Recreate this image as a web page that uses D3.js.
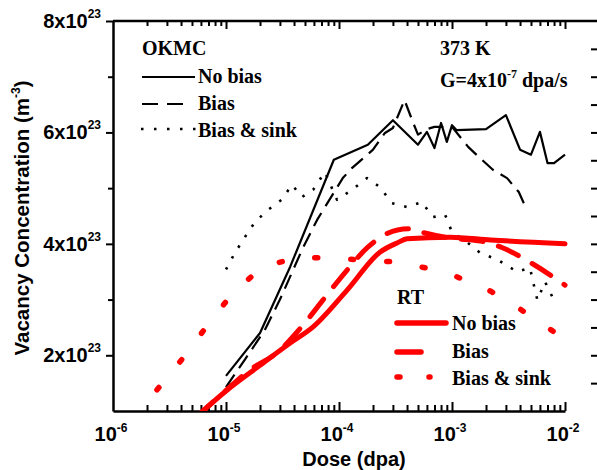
<!DOCTYPE html>
<html><head><meta charset="utf-8">
<script src="https://cdn.jsdelivr.net/npm/d3@7"></script>
<style>body{margin:0;background:#fff}</style>
</head><body>
<svg id="c" width="597" height="470"></svg>
<script>
// ---- data (concentration in units of 1e23 m^-3) ----
const xTickExps = [-6, -5, -4, -3, -2];
const yTickVals = [2, 4, 6, 8];
const yTickExp = "23";
const okmcNoBias = [[1e-5,1.63],[2e-5,2.40],[2.8e-5,3.05],[3.7e-5,3.59],[9e-5,5.51],[1.8e-4,5.78],[3e-4,6.22],[5e-4,5.78],[6e-4,6.01],[7e-4,5.72],[8e-4,6.17],[9e-4,5.83],[1e-3,6.13],[1.1e-3,6.04],[2e-3,6.06],[3e-3,6.31],[4e-3,5.69],[5e-3,5.60],[6e-3,6.01],[7e-3,5.45],[8e-3,5.45],[1e-2,5.60]];
const okmcBias = [[1e-5,1.43],[1.5e-5,1.95],[2.2e-5,2.45],[3e-5,3.0],[4.8e-5,3.93],[6.4e-5,4.43],[1.08e-4,5.18],[1.3e-4,5.36],[2e-4,5.69],[2.55e-4,5.99],[3e-4,6.08],[3.8e-4,6.58],[4.5e-4,6.19],[5e-4,5.96],[6e-4,6.06],[7e-4,6.1],[1e-3,6.1],[1.39e-3,5.74],[1.77e-3,5.54],[2.3e-3,5.33],[3.07e-3,5.18],[3.9e-3,4.93],[4.5e-3,4.65]];
const okmcSink = [[1e-5,3.54],[1.2e-5,3.84],[1.47e-5,4.12],[1.8e-5,4.39],[2.35e-5,4.61],[3.1e-5,4.79],[3.84e-5,5.06],[4.7e-5,4.84],[5.9e-5,4.97],[7.5e-5,5.29],[9.6e-5,4.79],[1.3e-4,4.97],[1.77e-4,5.18],[2.3e-4,5.02],[2.94e-4,4.73],[4e-4,4.66],[5.4e-4,4.75],[6.8e-4,4.48],[8.7e-4,4.52],[1e-3,4.21],[1.36e-3,4.03],[1.77e-3,3.84],[2.55e-3,3.71],[3.76e-3,3.50],[4.9e-3,3.57],[5.3e-3,3.26],[5.7e-3,2.99],[6.65e-3,3.32],[7.8e-3,3.03]];
const rtNoBias = [[5.5e-6,0.9],[1e-5,1.36],[2e-5,1.82],[3.7e-5,2.22],[5.9e-5,2.51],[1.18e-4,3.17],[2.3e-4,3.85],[3.3e-4,4.02],[4e-4,4.09],[9.6e-4,4.12],[2.2e-3,4.07],[1e-2,4.0]];
const rtBias = [[5.5e-6,0.9],[9.4e-6,1.32],[1.63e-5,1.74],[2.8e-5,2.04],[4.8e-5,2.54],[7.2e-5,2.99],[1.18e-4,3.53],[1.8e-4,3.94],[3.3e-4,4.25],[4.3e-4,4.27],[5.4e-4,4.21],[1e-3,4.1],[1.8e-3,4.05],[2.8e-3,3.93],[4.9e-3,3.67],[1e-2,3.26]];
const rtSink = [[2.45e-6,1.38],[4.16e-6,1.95],[6.8e-6,2.53],[1.15e-5,3.12],[2.12e-5,3.59],[4.2e-5,3.75],[7.8e-5,3.75],[2.9e-4,3.68],[5.8e-4,3.57],[1.1e-3,3.41],[2.2e-3,3.15],[4e-3,2.83],[8e-3,2.42]];

const SANS = "'Liberation Sans', Arial, sans-serif";
const SERIF = "'Liberation Serif', 'Times New Roman', serif";
const RED = "#ff0000";

const svg = d3.select("#c");
const L = 113, R = 565, T = 21, B = 411, RE = 597;
const x = d3.scaleLog().domain([1e-6, 1e-2]).range([L, R]);
const y = d3.scaleLinear().domain([1, 8]).range([B, T]);

svg.append("defs").append("clipPath").attr("id", "clip")
  .append("rect").attr("x", L).attr("y", T).attr("width", RE - L).attr("height", B - T);

const majorX = xTickExps.map(e => Math.pow(10, e));
const minorX = [];
for (let e = -6; e < -2; e++) for (let k = 2; k <= 9; k++) minorX.push(k * Math.pow(10, e));

function styleAxis(g) {
  g.selectAll("path,line").attr("stroke", "#000").attr("stroke-width", 2);
  g.selectAll("text").remove();
}
// bottom axis
svg.append("g").attr("transform", `translate(0,${B})`)
  .call(d3.axisBottom(x).tickValues(minorX).tickSize(-6).tickSizeOuter(0).tickFormat(""))
  .call(styleAxis).select(".domain").attr("stroke-width", 2.5);
svg.append("g").attr("transform", `translate(0,${B})`)
  .call(d3.axisBottom(x).tickValues(majorX.slice(1)).tickSize(-9).tickSizeOuter(0).tickFormat(""))
  .call(styleAxis).select(".domain").remove();
// top axis
svg.append("line").attr("x1", L).attr("x2", RE).attr("y1", T).attr("y2", T).attr("stroke", "#000").attr("stroke-width", 2.5);
svg.append("g").attr("transform", `translate(0,${T})`)
  .call(d3.axisTop(x).tickValues(minorX).tickSize(-5).tickSizeOuter(0).tickFormat(""))
  .call(styleAxis).select(".domain").remove();
svg.append("g").attr("transform", `translate(0,${T})`)
  .call(d3.axisTop(x).tickValues(majorX.slice(1)).tickSize(-8).tickSizeOuter(0).tickFormat(""))
  .call(styleAxis).select(".domain").remove();
// left axis
svg.append("g").attr("transform", `translate(${L},0)`)
  .call(d3.axisLeft(y).tickValues(yTickVals).tickSize(7).tickSizeOuter(0).tickFormat(""))
  .call(styleAxis).select(".domain").attr("stroke-width", 2.5);
svg.append("g").attr("transform", `translate(${L},0)`)
  .call(d3.axisLeft(y).tickValues([3, 5, 7]).tickSize(5).tickSizeOuter(0).tickFormat(""))
  .call(styleAxis).select(".domain").remove();
// right ticks (inward)
svg.append("g").attr("transform", `translate(${RE},0)`)
  .call(d3.axisRight(y).tickValues(d3.range(1.5, 8, 0.5)).tickSize(-6).tickSizeOuter(0).tickFormat(""))
  .call(styleAxis).select(".domain").remove();

// tick labels
xTickExps.forEach(e => {
  const t = svg.append("text").attr("x", x(Math.pow(10, e)) - 2).attr("y", 441)
    .attr("text-anchor", "middle").attr("font-family", SANS).attr("font-weight", "bold").attr("font-size", 20);
  t.append("tspan").text("10");
  t.append("tspan").attr("dy", -9).attr("font-size", 12).text(String(e));
});
yTickVals.forEach(v => {
  const t = svg.append("text").attr("x", 101).attr("y", y(v) + 7)
    .attr("text-anchor", "end").attr("font-family", SANS).attr("font-weight", "bold").attr("font-size", 20);
  t.append("tspan").text(v + "x10");
  t.append("tspan").attr("dy", -10).attr("font-size", 12).text(yTickExp);
});

// axis titles
svg.append("text").attr("x", 354).attr("y", 466).attr("text-anchor", "middle")
  .attr("font-family", SANS).attr("font-weight", "bold").attr("font-size", 20).text("Dose (dpa)");
const yt = svg.append("text").attr("transform", "translate(29,218) rotate(-90)").attr("text-anchor", "middle")
  .attr("font-family", SANS).attr("font-weight", "bold").attr("font-size", 20.5);
yt.append("tspan").text("Vacancy Concentration (m");
yt.append("tspan").attr("dy", -9).attr("font-size", 12).text("-3");
yt.append("tspan").attr("dy", 9).text(")");

// series
const line = d3.line().x(d => x(d[0])).y(d => y(d[1]));
const smooth = d3.line().curve(d3.curveMonotoneX).x(d => x(d[0])).y(d => y(d[1]));
const plot = svg.append("g").attr("clip-path", "url(#clip)");
const series = [
  {d: okmcSink, gen: line, color: "#000", w: 2.6, dash: "2.5,10", cap: "butt"},
  {d: okmcBias, gen: line, color: "#000", w: 2.2, dash: "15,8", cap: "butt"},
  {d: okmcNoBias, gen: line, color: "#000", w: 2.2, dash: null, cap: "butt"},
  {d: rtSink, gen: line, color: RED, w: 5.5, dash: "3,33", cap: "round"},
  {d: rtBias, gen: smooth, color: RED, w: 5, dash: "22,16", cap: "round"},
  {d: rtNoBias, gen: smooth, color: RED, w: 5, dash: null, cap: "round"},
];
series.forEach(s => {
  plot.append("path").attr("d", s.gen(s.d)).attr("fill", "none").attr("stroke", s.color)
    .attr("stroke-width", s.w).attr("stroke-dasharray", s.dash).attr("stroke-linecap", s.cap)
    .attr("stroke-linejoin", "round");
});

// legends
function txt(xp, yp, str, size) {
  return svg.append("text").attr("x", xp).attr("y", yp).attr("font-family", SERIF)
    .attr("font-weight", "bold").attr("font-size", size || 20).text(str);
}
function seg(x1, x2, yy, color, w, dash, cap) {
  svg.append("line").attr("x1", x1).attr("x2", x2).attr("y1", yy).attr("y2", yy)
    .attr("stroke", color).attr("stroke-width", w).attr("stroke-dasharray", dash).attr("stroke-linecap", cap || "butt");
}
txt(142, 55, "OKMC");
seg(142, 195, 77, "#000", 2.2);
txt(198, 83, "No bias");
seg(142, 183, 104, "#000", 2.2, "16,9");
txt(198, 110, "Bias");
seg(141, 196, 129, "#000", 2.6, "2.5,10.5");
txt(198, 137, "Bias & sink");

txt(440, 55, "373 K");
const g = txt(440, 87, "G=4x10");
g.append("tspan").attr("dy", -9).attr("font-size", 12).text("-7");
g.append("tspan").attr("dy", 9).text(" dpa/s");

txt(397, 304, "RT");
seg(397, 446, 323, RED, 5.5, null, "round");
txt(452, 330, "No bias");
seg(397, 421, 352, RED, 5.5, null, "round");
txt(452, 358, "Bias");
seg(397, 430, 377, RED, 5.5, "3,29", "round");
txt(452, 385, "Bias & sink");
</script>
</body></html>
